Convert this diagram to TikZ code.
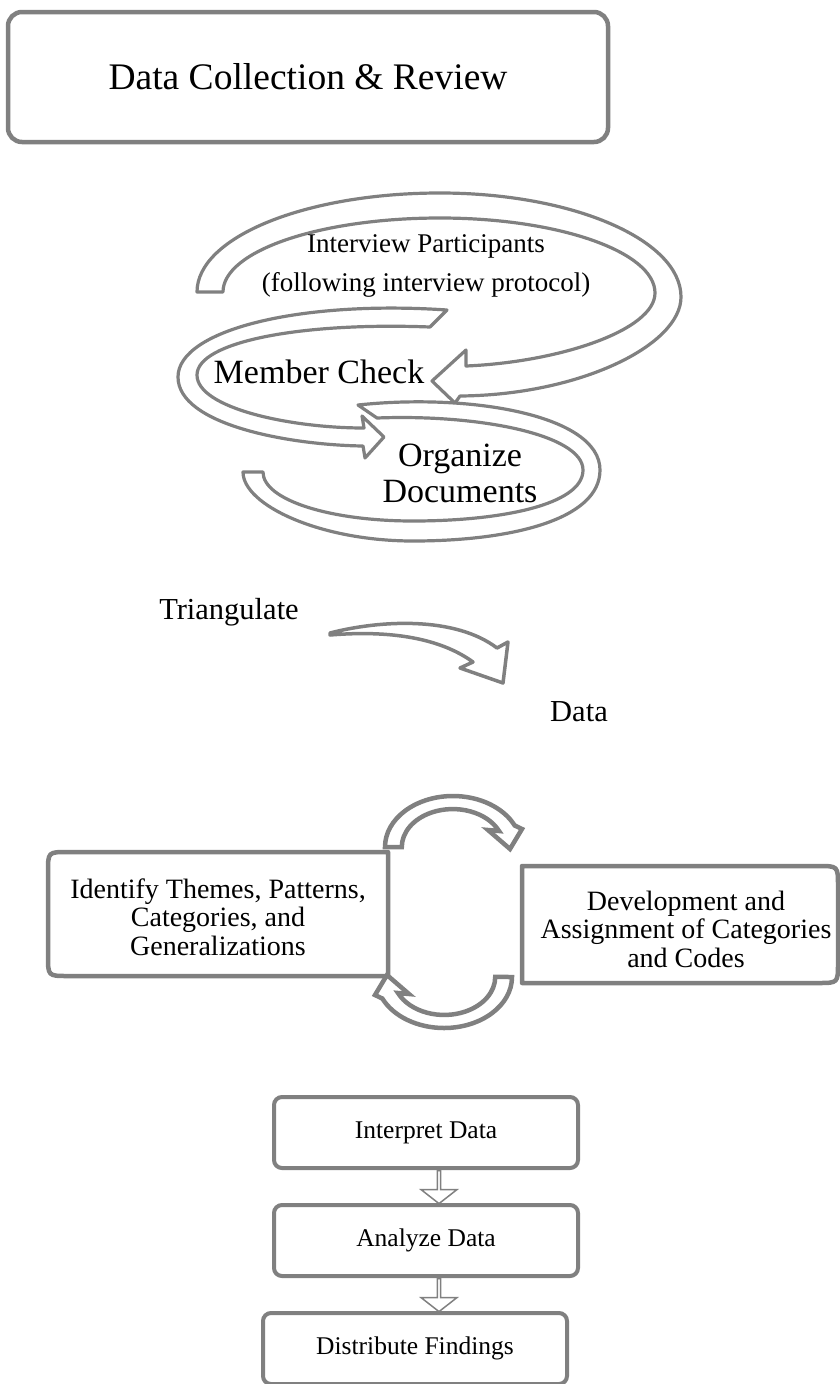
\documentclass[tikz,border=0pt]{standalone}
\usepackage{fontspec}
\setmainfont{Liberation Serif}
\usepackage{tikz}
\usetikzlibrary{positioning,shapes.arrows}
\definecolor{linegray}{HTML}{808080}

\begin{document}
\begin{tikzpicture}[
    x=1pt, y=-1pt,
    node distance=37pt,
    textnode/.style={inner sep=0pt, align=center},
    mainbox/.style={draw=linegray, line width=4.5pt, rounded corners=14pt, minimum width=600pt, minimum height=130pt, outer sep=0pt},
    halfbox/.style={draw=linegray, line width=4.5pt, line join=round},
    stepbox/.style={draw=linegray, line width=4pt, rounded corners=8pt, minimum width=304pt, minimum height=71pt, outer sep=0pt, font=\fontsize{25.5}{28}\selectfont},
    bandarrow/.style={draw=linegray, line width=3.2pt, fill=white, line join=round},
    looparrow/.style={draw=linegray, line width=4.5pt, fill=white},
    downarrow/.style={single arrow, draw=linegray, line width=1.5pt, fill=white, shape border rotate=270, minimum height=33pt, minimum width=36pt, single arrow head extend=8pt, single arrow tip angle=104, inner sep=0pt, outer sep=0pt}
]
\useasboundingbox (0,0) rectangle (840,1384);

% title
\node[mainbox, font=\fontsize{37.5}{40}\selectfont] (title) at (308,77) {Data Collection \& Review};

% spiral of three curved arrows
\draw[bandarrow] (197,292) .. controls (197,237) and (306,193) .. (440,193) .. controls (573,193) and (681,240) .. (681,297) .. controls (681,345) and (580,395) .. (460,396) -- (455,403) -- (432,381) -- (466,350) -- (466,366) .. controls (560,362) and (655,330) .. (655,293) .. controls (655,252) and (559,218) .. (440,218) .. controls (320,218) and (223,251) .. (223,292) -- cycle;
\draw[bandarrow] (447,310) .. controls (300,300) and (178,330) .. (178,377) .. controls (178,425) and (290,445) .. (363,446) -- (365,458) -- (384,437) -- (362,416) -- (364,428) .. controls (290,428) and (197,408) .. (197,375) .. controls (197,342) and (300,322) .. (430,327) -- cycle;
\draw[bandarrow] (358,405) .. controls (470,393) and (600,415) .. (600,470) .. controls (600,520) and (510,541) .. (413,541) .. controls (320,541) and (243,505) .. (243,472) -- (263,472) .. controls (263,500) and (330,521) .. (413,521) .. controls (500,521) and (583,505) .. (583,470) .. controls (583,435) and (480,414) .. (377,418) -- cycle;

\node[textnode, font=\fontsize{27}{39}\selectfont] (interview) at (426,266) {Interview Participants\\(following interview protocol)};
\node[textnode, font=\fontsize{34}{36}\selectfont, anchor=base] (member) at (319,383) {Member Check};
\node[textnode, font=\fontsize{34}{36}\selectfont] (organize) at (460,473.5) {Organize\\Documents};

% triangulate
\node[textnode, font=\fontsize{30.5}{34}\selectfont, anchor=base] (triang) at (229,619) {Triangulate};
\node[textnode, font=\fontsize{30.5}{34}\selectfont, anchor=base] (data) at (579,721) {Data};
\draw[bandarrow, line width=3.5pt] (330,633) .. controls (380,620) and (455,616) .. (497,648) -- (508,642) -- (503,683) -- (460,668) -- (473,662) .. controls (440,638) and (390,630) .. (330,635) -- cycle;

% coding cycle
\draw[halfbox] (388,852) -- (68,852) .. controls (48,852) .. (48,872) -- (48,956) .. controls (48,976) .. (68,976) -- (388,976) -- cycle;
\draw[halfbox] (522,866) -- (818,866) .. controls (838,866) .. (838,886) -- (838,963) .. controls (838,983) .. (818,983) -- (522,983) -- cycle;
\node[textnode, font=\fontsize{28}{28.5}\selectfont] (themes) at (218,917) {Identify Themes, Patterns,\\Categories, and\\Generalizations};
\node[textnode, font=\fontsize{28}{28.5}\selectfont] (develop) at (686,929) {Development and\\Assignment of Categories\\and Codes};

\draw[looparrow] (385,847) arc[start angle=180, end angle=335, x radius=68, y radius=51] -- (522,829) -- (510,849) -- (488,830) -- (499,831) arc[start angle=335, end angle=180, x radius=51, y radius=38] -- cycle;
\draw[looparrow, rotate around={180:(448.5,912)}] (385,847) arc[start angle=180, end angle=335, x radius=68, y radius=51] -- (522,829) -- (510,849) -- (488,830) -- (499,831) arc[start angle=335, end angle=180, x radius=51, y radius=38] -- cycle;

% final steps
\node[stepbox] (interpret) at (426,1132.5) {Interpret Data};
\node[stepbox, below=of interpret] (analyze) {Analyze Data};
\node[stepbox, below=of analyze, xshift=-11pt] (distribute) {Distribute Findings};
\node[downarrow] (arrow1) at (439,1186.5) {};
\node[downarrow] (arrow2) at (439,1294.5) {};
\end{tikzpicture}
\end{document}
